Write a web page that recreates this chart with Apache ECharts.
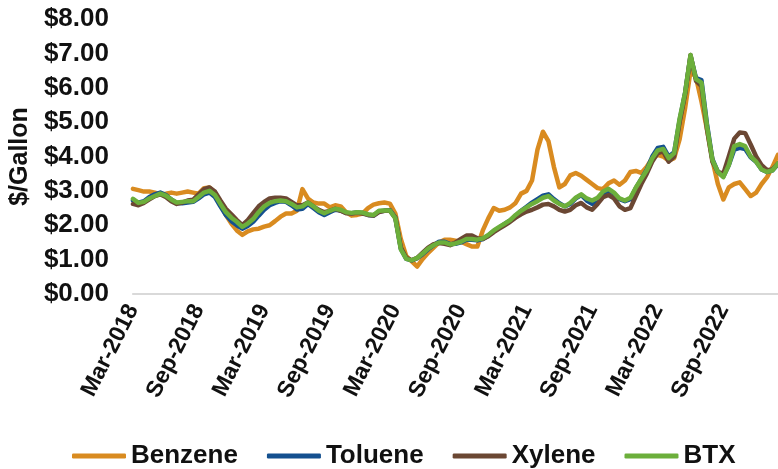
<!DOCTYPE html>
<html>
<head>
<meta charset="utf-8">
<script src="https://cdn.jsdelivr.net/npm/echarts@6/dist/echarts.min.js"></script>
<style>html,body{margin:0;padding:0;background:#fff;}#c{width:778px;height:469px;}</style>
</head>
<body>
<div id="c"></div>
<script>
// Half-monthly observations, first point = 1 Mar 2018
const startYear = 2018, startMonth = 2, pointCount = 119;
const tickLabels = ["Mar-2018","Sep-2018","Mar-2019","Sep-2019","Mar-2020","Sep-2020","Mar-2021","Sep-2021","Mar-2022","Sep-2022"];
const seriesNames = ["Benzene","Toluene","Xylene","BTX"];

const benzene = [3.06,3.02,2.98,2.98,2.95,2.90,2.92,2.95,2.92,2.95,2.98,2.95,2.92,3.08,3.10,2.95,2.60,2.30,2.05,1.85,
1.72,1.82,1.88,1.90,1.96,2.00,2.12,2.25,2.34,2.34,2.42,3.05,2.78,2.66,2.63,2.63,2.52,2.58,2.55,2.38,
2.28,2.30,2.34,2.50,2.60,2.64,2.66,2.63,2.34,1.60,1.10,0.95,0.80,1.02,1.20,1.35,1.50,1.58,1.58,1.55,
1.52,1.45,1.38,1.38,1.85,2.20,2.50,2.42,2.45,2.52,2.65,2.92,3.00,3.30,4.20,4.72,4.45,3.70,3.10,3.20,
3.45,3.52,3.44,3.32,3.20,3.08,3.05,3.22,3.30,3.18,3.30,3.55,3.58,3.52,3.70,3.95,4.05,4.00,3.88,3.95,
4.50,5.40,6.50,6.30,5.60,4.80,3.90,3.20,2.75,3.10,3.20,3.25,3.05,2.85,2.95,3.20,3.40,3.70,4.05];

const toluene = [2.72,2.66,2.70,2.82,2.90,2.95,2.88,2.75,2.65,2.64,2.66,2.68,2.78,2.90,2.95,2.82,2.55,2.30,2.12,2.00,
1.90,1.98,2.10,2.28,2.45,2.58,2.65,2.70,2.68,2.58,2.46,2.48,2.62,2.50,2.38,2.30,2.38,2.45,2.43,2.36,
2.35,2.37,2.36,2.30,2.28,2.40,2.42,2.44,2.22,1.32,1.02,0.98,1.04,1.16,1.30,1.42,1.52,1.52,1.45,1.46,
1.50,1.58,1.58,1.56,1.60,1.70,1.83,1.93,2.04,2.14,2.28,2.42,2.54,2.66,2.76,2.86,2.90,2.76,2.64,2.55,
2.62,2.78,2.88,2.72,2.62,2.66,2.90,3.02,2.92,2.76,2.70,2.76,3.08,3.35,3.62,4.00,4.25,4.28,4.00,4.12,
5.05,5.85,6.92,6.28,6.22,4.95,3.92,3.55,3.42,3.75,4.20,4.25,4.22,3.98,3.85,3.62,3.55,3.60,3.78];

const xylene = [2.62,2.58,2.65,2.75,2.85,2.90,2.82,2.70,2.62,2.66,2.72,2.74,2.90,3.05,3.10,2.98,2.72,2.48,2.32,2.15,
2.00,2.15,2.35,2.55,2.68,2.78,2.80,2.80,2.78,2.68,2.58,2.58,2.66,2.55,2.45,2.38,2.42,2.48,2.42,2.35,
2.35,2.36,2.34,2.30,2.28,2.38,2.42,2.42,2.22,1.35,1.05,0.98,1.05,1.20,1.35,1.45,1.48,1.46,1.42,1.50,
1.60,1.70,1.70,1.62,1.60,1.68,1.80,1.90,2.00,2.10,2.22,2.32,2.40,2.45,2.52,2.60,2.62,2.55,2.45,2.40,
2.45,2.58,2.65,2.52,2.45,2.62,2.82,2.88,2.78,2.55,2.45,2.50,2.85,3.20,3.50,3.85,4.10,4.15,3.85,4.00,
5.00,5.80,6.95,6.20,6.05,4.80,3.85,3.55,3.50,4.00,4.52,4.70,4.68,4.35,4.00,3.75,3.60,3.62,3.80];

const btx = [2.77,2.65,2.68,2.78,2.85,2.92,2.86,2.75,2.66,2.68,2.70,2.70,2.82,2.95,3.00,2.88,2.62,2.38,2.22,2.10,
1.95,2.05,2.18,2.38,2.55,2.65,2.70,2.72,2.70,2.62,2.52,2.55,2.66,2.55,2.42,2.35,2.42,2.48,2.45,2.38,
2.36,2.38,2.37,2.32,2.30,2.42,2.43,2.43,2.20,1.30,1.02,0.98,1.05,1.18,1.32,1.42,1.50,1.50,1.44,1.47,
1.52,1.60,1.60,1.58,1.62,1.72,1.85,1.95,2.05,2.15,2.30,2.42,2.52,2.62,2.70,2.80,2.85,2.72,2.62,2.55,
2.65,2.80,2.90,2.78,2.72,2.80,2.98,3.06,2.95,2.78,2.72,2.80,3.10,3.35,3.60,3.95,4.18,4.22,3.95,4.10,
5.10,5.85,6.95,6.25,6.15,4.90,3.90,3.55,3.40,3.75,4.30,4.36,4.30,4.00,3.85,3.62,3.55,3.60,3.80];

const colors = ["#D98B20","#14508F","#6B4733","#6CAF3B"];

const categories = [];
for (let i = 0; i < pointCount; i++) {
  const m = startMonth + Math.floor(i / 2);
  const y = startYear + Math.floor(m / 12);
  const mm = (m % 12) + 1;
  categories.push(y + "-" + String(mm).padStart(2, "0") + (i % 2 === 0 ? "-01" : "-15"));
}

const FONT = "'Liberation Sans', Arial, sans-serif";
const values = [benzene, toluene, xylene, btx];

const chart = echarts.init(document.getElementById('c'), null, {renderer: 'canvas'});
chart.setOption({
  animation: false,
  color: colors,
  grid: {left: 132, right: 0, top: 19, bottom: 175, containLabel: false},
  legend: {
    data: seriesNames,
    top: 438,
    left: 67,
    icon: 'roundRect',
    itemWidth: 54,
    itemHeight: 5,
    itemGap: 29,
    textStyle: {fontFamily: FONT, fontSize: 26, color: '#111', fontWeight: 'bold'}
  },
  xAxis: {
    type: 'category',
    data: categories,
    boundaryGap: false,
    axisLine: {lineStyle: {color: '#D9D9D9', width: 2}},
    axisTick: {show: false},
    splitLine: {show: false},
    axisLabel: {
      interval: 11,
      rotate: 63,
      margin: 12,
      fontFamily: FONT,
      fontSize: 23,
      fontWeight: 'bold',
      color: '#111',
      formatter: function (v, idx) { return tickLabels[idx / 12] || ''; }
    }
  },
  yAxis: {
    type: 'value',
    min: 0,
    max: 8,
    interval: 1,
    name: '$/Gallon',
    nameLocation: 'middle',
    nameGap: 95,
    nameTextStyle: {fontFamily: FONT, fontSize: 25, fontWeight: 'bold', color: '#111'},
    axisLine: {show: false},
    axisTick: {show: false},
    splitLine: {show: false},
    axisLabel: {
      margin: 24,
      fontFamily: FONT,
      fontSize: 26,
      fontWeight: 'bold',
      color: '#111',
      formatter: function (v) { return '$' + v.toFixed(2); }
    }
  },
  series: seriesNames.map(function (n, k) {
    return {
      name: n,
      type: 'line',
      data: values[k],
      symbol: 'none',
      smooth: false,
      lineStyle: {width: 4.5, color: colors[k], join: 'round', cap: 'round'},
      z: 2 + k
    };
  })
});
</script>
</body>
</html>
